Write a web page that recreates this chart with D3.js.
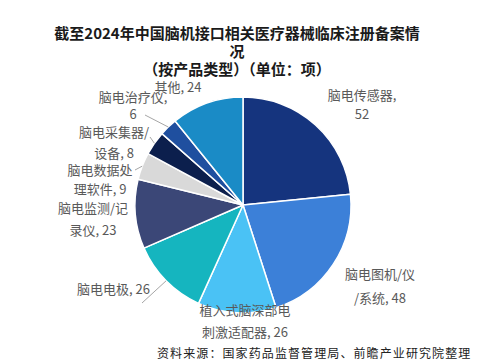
<!DOCTYPE html>
<html><head><meta charset="utf-8">
<script src="https://cdn.jsdelivr.net/npm/d3@7/dist/d3.min.js"></script>
<style>
html,body{margin:0;padding:0;background:#fff;}
svg{display:block;font-family:"Noto Sans CJK SC","Noto Sans",sans-serif;}
</style></head>
<body><svg id="c" width="500" height="360"></svg>
<script>
const categories = ["脑电传感器","脑电图机/仪/系统","植入式脑深部电刺激适配器","脑电电极","脑电监测/记录仪","脑电数据处理软件","脑电采集器/设备","脑电治疗仪","其他"];
const values = [52,48,26,26,23,9,8,6,24];
const labelLines = [
  ["脑电传感器,","52"],
  ["脑电图机/仪","/系统, 48"],
  ["植入式脑深部电","刺激适配器, 26"],
  ["脑电电极, 26"],
  ["脑电监测/记","录仪, 23"],
  ["脑电数据处","理软件, 9"],
  ["脑电采集器/","设备, 8"],
  ["脑电治疗仪,","6"],
  ["其他, 24"]
];
const titleLines = ["截至2024年中国脑机接口相关医疗器械临床注册备案情","况","（按产品类型）（单位：项）"];
const sourceText = "资料来源：国家药品监督管理局、前瞻产业研究院整理";

// layout (not data)
const colors = ["#15347e","#3c80d8","#4ac2f5","#15b5bf","#3b4777","#d9d9d9","#0c1f4d","#1f4f9f","#1a8bc6"];
const cx = 243, cy = 205, R = 108;
const labelPos = [
  {x:362,y:[94,113],anchor:"middle"},
  {x:380,y:[273,297],anchor:"middle"},
  {x:245,y:[309,331],anchor:"middle"},
  {x:150,y:[288],anchor:"end",leader:[142,303]},
  {x:93,y:[207,229],anchor:"middle"},
  {x:100,y:[169,188],anchor:"middle",leader:[135,170]},
  {x:114,y:[131,152],anchor:"middle",leader:[150,137]},
  {x:133,y:[96,113],anchor:"middle",leader:[145,115]},
  {x:178,y:[86],anchor:"middle"}
];

const svg = d3.select("#c");
const data = categories.map((c,i)=>({cat:c,value:values[i],i}));
const pie = d3.pie().sort(null).value(d=>d.value).startAngle(0).endAngle(2*Math.PI);
const arcs = pie(data);
const arc = d3.arc().innerRadius(0).outerRadius(R);
const g = svg.append("g").attr("transform",`translate(${cx},${cy})`);
g.selectAll("path").data(arcs).join("path")
  .attr("d",arc).attr("fill",d=>colors[d.data.i])
  .attr("stroke","#fff").attr("stroke-width",1.5).attr("stroke-linejoin","round");

// leader lines
arcs.forEach(a=>{
  const lp = labelPos[a.data.i];
  if(!lp.leader) return;
  const m = (a.startAngle+a.endAngle)/2;
  const ex = cx + R*Math.sin(m), ey = cy - R*Math.cos(m);
  svg.append("line").attr("x1",lp.leader[0]).attr("y1",lp.leader[1])
    .attr("x2",ex).attr("y2",ey).attr("stroke","#a6a6a6").attr("stroke-width",1);
});

// labels
labelLines.forEach((lines,i)=>{
  const lp = labelPos[i];
  lines.forEach((t,j)=>{
    svg.append("text").attr("x",lp.x).attr("y",lp.y[j])
      .attr("text-anchor",lp.anchor).attr("dominant-baseline","central")
      .attr("font-size",13).attr("fill","#595959").text(t);
  });
});

// title
const ty=[32,50,68];
titleLines.forEach((t,j)=>{
  svg.append("text").attr("x",237).attr("y",ty[j]).attr("text-anchor","middle")
    .attr("dominant-baseline","central").attr("font-size",15).attr("font-weight","bold")
    .attr("fill","#1a1a1a").text(t);
});

// source
svg.append("text").attr("x",157).attr("y",352).attr("dominant-baseline","central")
  .attr("font-size",12).attr("letter-spacing","1.1px").attr("fill","#222").text(sourceText);
</script></body></html>
